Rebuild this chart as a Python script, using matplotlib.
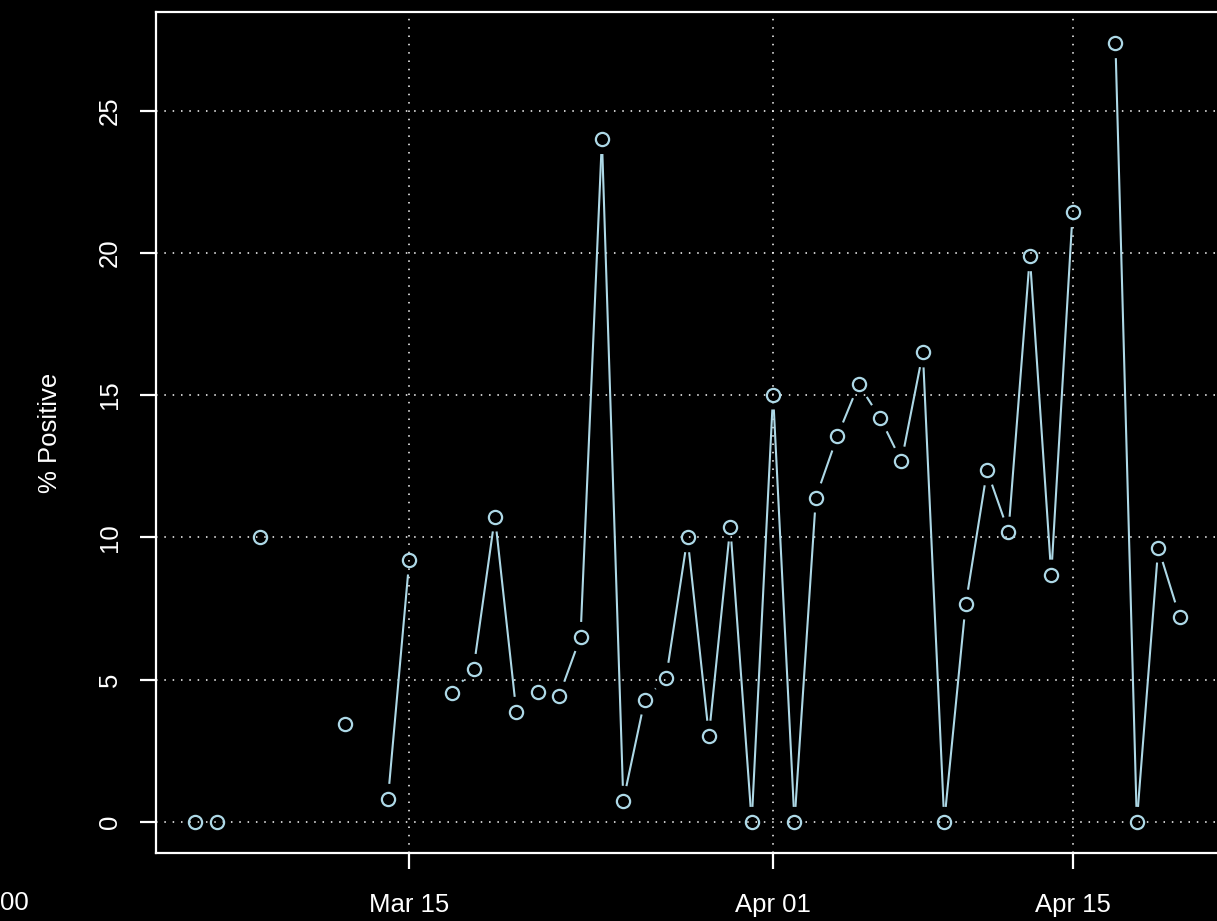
import numpy as np
import matplotlib
matplotlib.use("Agg")
import matplotlib.pyplot as plt
import matplotlib.dates as mdates
import pandas as pd

plt.rcParams['font.family'] = ['Liberation Sans', 'DejaVu Sans']

# ---- data (one value per day; None = no observation) ----
dates = pd.date_range("2020-03-05", "2020-04-20", freq="D")
pct_positive = [
    0.0, 0.0, None, 10.0, None, None, None, 3.45, None, 0.81,   # Mar 05-14
    9.22, None, 4.54, 5.38, 10.73, 3.87, 4.57, 4.43, 6.50, 24.0, # Mar 15-24
    0.74, 4.29, 5.07, 10.0, 3.03, 10.38, 0.0,                    # Mar 25-31
    15.02, 0.0, 11.40, 13.55, 15.38, 14.20, 12.67, 16.50, 0.0,   # Apr 01-09
    7.64, 12.35, 10.20, 19.88, 8.69, 21.43, None, 27.37, 0.0,    # Apr 10-18
    9.64, 7.21,                                                  # Apr 19-20
]
xtick_dates = ["2020-03-15", "2020-04-01", "2020-04-15"]
ytick_vals = [0, 5, 10, 15, 20, 25]
ylabel = "% Positive"

col = "#ADD8E6"
fs = 18.5
W, H = 1217, 921
fig = plt.figure(figsize=(W / 100, H / 100), dpi=100, facecolor="black")
ax = fig.add_axes([156 / W, (H - 853) / H, (1219 - 156) / W, (853 - 12) / H])
ax.set_facecolor("black")

x = mdates.date2num(dates)
y = np.array([np.nan if v is None else v for v in pct_positive], dtype=float)

span = x[-1] - x[0]
ax.set_xlim(x[0] - 0.04 * span, x[-1] + 0.04 * span)
ymax = np.nanmax(y)
ax.set_ylim(0 - 0.04 * ymax, ymax * 1.04)

# grid
gls = (0, (1, 4.45))
for yt in ytick_vals:
    ax.axhline(yt, color="white", lw=1.1, ls=gls, zorder=1)
for xd in xtick_dates:
    ax.axvline(mdates.date2num(pd.Timestamp(xd)), color="white", lw=1.1,
               ls=gls, zorder=1)

# lines with gaps around points (R type = "b")
gap = 15.0
tr = ax.transData
inv = tr.inverted()
for i in range(len(x) - 1):
    if np.isnan(y[i]) or np.isnan(y[i + 1]):
        continue
    p0 = tr.transform((x[i], y[i]))
    p1 = tr.transform((x[i + 1], y[i + 1]))
    d = p1 - p0
    L = np.hypot(*d)
    if L <= 2 * gap:
        continue
    a = p0 + d / L * gap
    b = p1 - d / L * gap
    da = inv.transform(a)
    db = inv.transform(b)
    ax.plot([da[0], db[0]], [da[1], db[1]], color=col, lw=1.5,
            solid_capstyle="butt", zorder=2)

ax.plot(x, y, ls="none", marker="o", ms=9.5, mfc="none", mec=col, mew=1.6,
        zorder=3)

# axes styling
for s in ax.spines.values():
    s.set_color("white")
    s.set_linewidth(1.6)
ax.set_xticks([mdates.date2num(pd.Timestamp(d)) for d in xtick_dates])
ax.xaxis.set_major_formatter(mdates.DateFormatter("%b %d"))
ax.set_yticks(ytick_vals)
ax.tick_params(colors="white", labelcolor="white", labelsize=fs, length=11.5,
               width=1.6, direction="out")
ax.tick_params(axis="x", pad=17)
ax.tick_params(axis="y", pad=13)
for lab in ax.get_yticklabels():
    lab.set_rotation(90)
    lab.set_va("center")
ax.set_ylabel(ylabel, color="white", fontsize=fs, labelpad=26)

fig.text(0 / W, 1 - 903 / H, "00", color="white", fontsize=fs,
         ha="left", va="center")

fig.savefig("out.png", dpi=100, facecolor="black")
